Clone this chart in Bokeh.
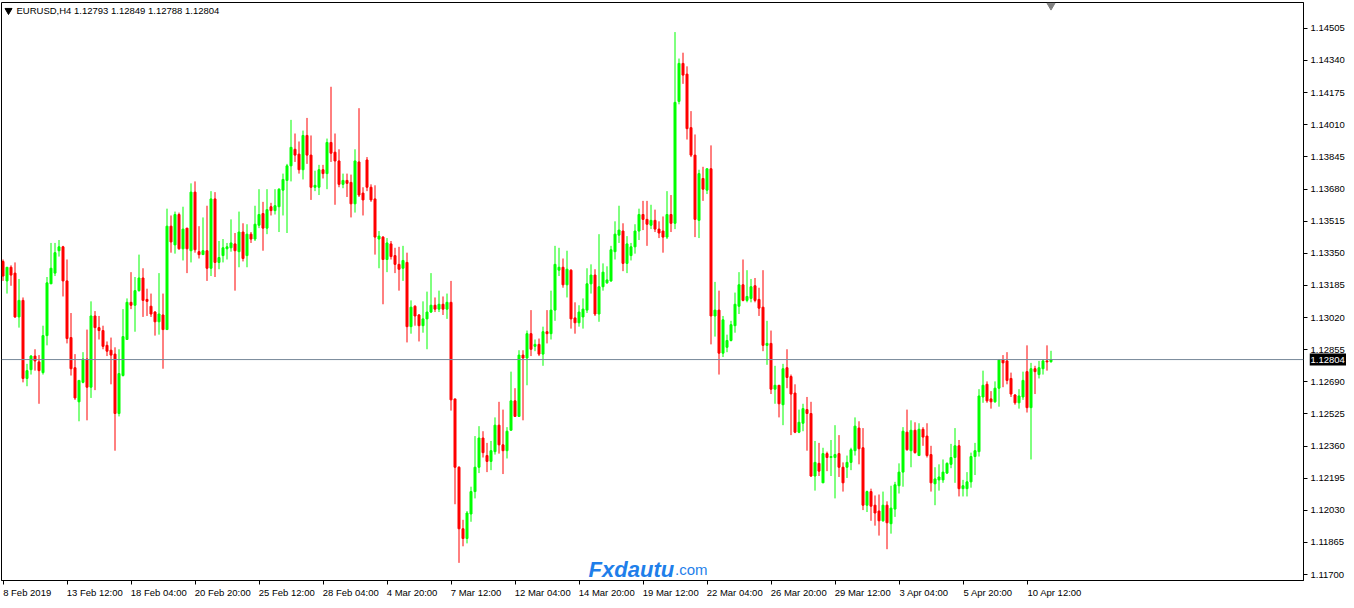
from bokeh.plotting import figure
from bokeh.layouts import row
from bokeh.models import (Range1d, FixedTicker, LinearAxis, Label, Span,
                          ColumnDataSource)
from bokeh.core.properties import value
from bokeh.embed import file_html
from bokeh.resources import INLINE

symbol = "EURUSD,H4"

opens = [
    1.13308, 1.13208, 1.13278, 1.13248, 1.13023, 1.13108, 1.12707, 1.12752, 1.12822, 1.12792,
    1.12737, 1.12927, 1.13193, 1.13248, 1.13363, 1.13383, 1.13208, 1.12917, 1.12762, 1.12587,
    1.12687, 1.12807, 1.12662, 1.13028, 1.12968, 1.12953, 1.12877, 1.12852, 1.12832, 1.12527,
    1.12722, 1.12907, 1.13098, 1.13083, 1.13158, 1.13223, 1.13113, 1.13078, 1.13048, 1.12998,
    1.13033, 1.12958, 1.13489, 1.13393, 1.13549, 1.13373, 1.13479, 1.13363, 1.13664, 1.13358,
    1.13343, 1.13363, 1.13273, 1.13629, 1.13303, 1.13338, 1.13373, 1.13378, 1.13398, 1.13358,
    1.13459, 1.13338, 1.13448, 1.13423, 1.13494, 1.13554, 1.13479, 1.13589, 1.13569, 1.13589,
    1.13674, 1.13724, 1.13799, 1.13884, 1.13859, 1.13779, 1.13955, 1.13854, 1.13689, 1.13689,
    1.13779, 1.13759, 1.13919, 1.13869, 1.13824, 1.13704, 1.13724, 1.13714, 1.13604, 1.13819,
    1.13659, 1.13829, 1.13689, 1.13629, 1.13423, 1.13433, 1.13318, 1.13398, 1.13338, 1.13293,
    1.13273, 1.13303, 1.12973, 1.13078, 1.13033, 1.12978, 1.13013, 1.13048, 1.13083, 1.13063,
    1.13088, 1.13063, 1.13098, 1.12602, 1.12251, 1.11935, 1.11885, 1.12011, 1.12126, 1.12251,
    1.12401, 1.12311, 1.12281, 1.12331, 1.12467, 1.12366, 1.12336, 1.12441, 1.12592, 1.12512,
    1.12827, 1.12812, 1.12937, 1.12872, 1.12882, 1.12832, 1.12947, 1.12937, 1.13058, 1.13263,
    1.13278, 1.13188, 1.13263, 1.13018, 1.12993, 1.13023, 1.13058, 1.13193, 1.13238, 1.13038,
    1.13178, 1.13198, 1.13208, 1.13358, 1.13443, 1.13464, 1.13298, 1.13338, 1.13383, 1.13464,
    1.13549, 1.13524, 1.13494, 1.13519, 1.13474, 1.13464, 1.13433, 1.13549, 1.13504, 1.14130,
    1.14325, 1.14270, 1.13995, 1.13854, 1.13519, 1.13734, 1.13674, 1.13784, 1.13028, 1.13058,
    1.12837, 1.12867, 1.12902, 1.12978, 1.13078, 1.13188, 1.13108, 1.13118, 1.13183, 1.13113,
    1.13073, 1.12877, 1.12887, 1.12652, 1.12672, 1.12572, 1.12762, 1.12717, 1.12632, 1.12431,
    1.12477, 1.12547, 1.12527, 1.12206, 1.12271, 1.12171, 1.12321, 1.12301, 1.12301, 1.12321,
    1.12251, 1.12251, 1.12276, 1.12336, 1.12452, 1.12351, 1.12056, 1.12126, 1.12056, 1.12026,
    1.11976, 1.12056, 1.11961, 1.12036, 1.12156, 1.12226, 1.12431, 1.12336, 1.12441, 1.12311,
    1.12446, 1.12411, 1.12316, 1.12166, 1.12186, 1.12186, 1.12221, 1.12266, 1.12301, 1.12361,
    1.12141, 1.12141, 1.12176, 1.12306, 1.12331, 1.12612, 1.12677, 1.12602, 1.12587, 1.12657,
    1.12802, 1.12797, 1.12707, 1.12622, 1.12582, 1.12612, 1.12742, 1.12557, 1.12757, 1.12727,
    1.12757, 1.12797, 1.12793,
]

highs = [
    1.13318, 1.13278, 1.13288, 1.13303, 1.13218, 1.13123, 1.12782, 1.12827, 1.12857, 1.12827,
    1.12978, 1.13228, 1.13403, 1.13403, 1.13418, 1.13388, 1.13318, 1.13043, 1.12832, 1.12697,
    1.12842, 1.12958, 1.13103, 1.13053, 1.13028, 1.12978, 1.12897, 1.12917, 1.12867, 1.12857,
    1.13063, 1.13118, 1.13253, 1.13228, 1.13343, 1.13273, 1.13168, 1.13143, 1.13053, 1.13248,
    1.13143, 1.13579, 1.13544, 1.13564, 1.13559, 1.13589, 1.13479, 1.13709, 1.13719, 1.13489,
    1.13534, 1.13594, 1.13669, 1.13664, 1.13413, 1.13423, 1.13403, 1.13524, 1.13454, 1.13564,
    1.13504, 1.13499, 1.13459, 1.13594, 1.13679, 1.13614, 1.13679, 1.13609, 1.13679, 1.13684,
    1.13759, 1.13809, 1.14035, 1.13965, 1.13924, 1.13980, 1.14045, 1.13955, 1.13774, 1.13804,
    1.13804, 1.13939, 1.14205, 1.13965, 1.13884, 1.13759, 1.13759, 1.13754, 1.13884, 1.14095,
    1.13689, 1.13844, 1.13704, 1.13699, 1.13464, 1.13438, 1.13428, 1.13413, 1.13378, 1.13383,
    1.13388, 1.13353, 1.13108, 1.13083, 1.13038, 1.13103, 1.13153, 1.13248, 1.13123, 1.13158,
    1.13128, 1.13143, 1.13208, 1.12602, 1.12256, 1.11981, 1.12026, 1.12151, 1.12411, 1.12462,
    1.12436, 1.12376, 1.12386, 1.12507, 1.12587, 1.12547, 1.12457, 1.12742, 1.12657, 1.12852,
    1.12852, 1.12953, 1.13058, 1.12907, 1.12912, 1.12973, 1.13058, 1.13158, 1.13388, 1.13378,
    1.13323, 1.13363, 1.13268, 1.13098, 1.13083, 1.13118, 1.13273, 1.13293, 1.13268, 1.13448,
    1.13298, 1.13283, 1.13388, 1.13514, 1.13594, 1.13504, 1.13438, 1.13403, 1.13499, 1.13579,
    1.13619, 1.13619, 1.13599, 1.13574, 1.13514, 1.13539, 1.13669, 1.13649, 1.14486, 1.14350,
    1.14380, 1.14310, 1.14080, 1.13960, 1.13779, 1.13794, 1.13784, 1.13904, 1.13203, 1.13158,
    1.13028, 1.12932, 1.13003, 1.13148, 1.13253, 1.13318, 1.13263, 1.13218, 1.13223, 1.13173,
    1.13263, 1.13003, 1.12953, 1.12772, 1.12672, 1.12782, 1.12857, 1.12727, 1.12677, 1.12547,
    1.12577, 1.12612, 1.12587, 1.12386, 1.12376, 1.12351, 1.12331, 1.12391, 1.12467, 1.12416,
    1.12276, 1.12311, 1.12351, 1.12507, 1.12487, 1.12452, 1.12131, 1.12141, 1.12106, 1.12111,
    1.12126, 1.12076, 1.12156, 1.12176, 1.12271, 1.12457, 1.12547, 1.12492, 1.12482, 1.12477,
    1.12457, 1.12477, 1.12361, 1.12251, 1.12266, 1.12291, 1.12276, 1.12371, 1.12452, 1.12391,
    1.12186, 1.12226, 1.12326, 1.12376, 1.12652, 1.12747, 1.12692, 1.12642, 1.12692, 1.12807,
    1.12827, 1.12842, 1.12737, 1.12627, 1.12652, 1.12742, 1.12877, 1.12787, 1.12772, 1.12797,
    1.12807, 1.12877, 1.12849,
]

lows = [
    1.13208, 1.13143, 1.13183, 1.13018, 1.12968, 1.12687, 1.12667, 1.12727, 1.12747, 1.12577,
    1.12727, 1.12877, 1.13193, 1.13233, 1.13333, 1.13128, 1.12887, 1.12722, 1.12597, 1.12487,
    1.12682, 1.12492, 1.12607, 1.12647, 1.12907, 1.12857, 1.12822, 1.12677, 1.12336, 1.12512,
    1.12717, 1.12907, 1.13063, 1.12947, 1.13153, 1.13023, 1.13028, 1.13023, 1.12927, 1.12932,
    1.12757, 1.12958, 1.13353, 1.13348, 1.13368, 1.13313, 1.13248, 1.13303, 1.13353, 1.13323,
    1.13343, 1.13208, 1.13233, 1.13228, 1.13268, 1.13303, 1.13318, 1.13358, 1.13158, 1.13278,
    1.13308, 1.13278, 1.13403, 1.13413, 1.13479, 1.13363, 1.13448, 1.13544, 1.13549, 1.13459,
    1.13544, 1.13454, 1.13719, 1.13819, 1.13759, 1.13729, 1.13809, 1.13624, 1.13669, 1.13649,
    1.13734, 1.13679, 1.13819, 1.13599, 1.13689, 1.13684, 1.13639, 1.13534, 1.13559, 1.13639,
    1.13544, 1.13669, 1.13614, 1.13343, 1.13273, 1.13088, 1.13253, 1.13318, 1.13248, 1.13158,
    1.13208, 1.12892, 1.12937, 1.12978, 1.12897, 1.12942, 1.12857, 1.13043, 1.13048, 1.13048,
    1.13033, 1.13013, 1.12542, 1.12061, 1.11760, 1.11845, 1.11860, 1.11971, 1.12091, 1.12221,
    1.12301, 1.12226, 1.12236, 1.12316, 1.12321, 1.12216, 1.12296, 1.12441, 1.12512, 1.12512,
    1.12492, 1.12672, 1.12822, 1.12847, 1.12822, 1.12772, 1.12887, 1.12907, 1.13003, 1.13233,
    1.13173, 1.13123, 1.12963, 1.12937, 1.12973, 1.12963, 1.13043, 1.13143, 1.13028, 1.12998,
    1.13158, 1.13193, 1.13203, 1.13318, 1.13403, 1.13258, 1.13248, 1.13313, 1.13348, 1.13418,
    1.13469, 1.13388, 1.13474, 1.13459, 1.13428, 1.13353, 1.13423, 1.13459, 1.13474, 1.14115,
    1.14220, 1.13934, 1.13844, 1.13433, 1.13428, 1.13619, 1.13654, 1.12882, 1.12922, 1.12727,
    1.12817, 1.12842, 1.12897, 1.12942, 1.13038, 1.13103, 1.13098, 1.13098, 1.13098, 1.13028,
    1.12847, 1.12777, 1.12627, 1.12577, 1.12507, 1.12467, 1.12657, 1.12416, 1.12426, 1.12426,
    1.12436, 1.12336, 1.12201, 1.12131, 1.12206, 1.12171, 1.12231, 1.12206, 1.12091, 1.12201,
    1.12126, 1.12196, 1.12236, 1.12311, 1.12266, 1.12031, 1.12021, 1.11976, 1.11951, 1.11900,
    1.11971, 1.11830, 1.11910, 1.11996, 1.12116, 1.12151, 1.12336, 1.12251, 1.12321, 1.12311,
    1.12361, 1.12301, 1.12126, 1.12056, 1.12131, 1.12171, 1.12216, 1.12246, 1.12171, 1.12101,
    1.12101, 1.12101, 1.12146, 1.12211, 1.12306, 1.12582, 1.12582, 1.12552, 1.12582, 1.12562,
    1.12662, 1.12677, 1.12612, 1.12572, 1.12552, 1.12597, 1.12532, 1.12291, 1.12627, 1.12707,
    1.12727, 1.12747, 1.12788,
]

closes = [
    1.13233, 1.13278, 1.13238, 1.13023, 1.13108, 1.12707, 1.12747, 1.12822, 1.12797, 1.12747,
    1.12927, 1.13198, 1.13273, 1.13353, 1.13383, 1.13208, 1.12912, 1.12757, 1.12607, 1.12697,
    1.12807, 1.12662, 1.13028, 1.12968, 1.12953, 1.12872, 1.12847, 1.12827, 1.12527, 1.12732,
    1.12922, 1.13098, 1.13083, 1.13158, 1.13223, 1.13108, 1.13103, 1.13038, 1.12998, 1.13038,
    1.12958, 1.13489, 1.13408, 1.13549, 1.13373, 1.13474, 1.13373, 1.13664, 1.13368, 1.13343,
    1.13363, 1.13273, 1.13629, 1.13303, 1.13328, 1.13378, 1.13383, 1.13403, 1.13363, 1.13459,
    1.13323, 1.13448, 1.13423, 1.13499, 1.13549, 1.13479, 1.13574, 1.13569, 1.13594, 1.13679,
    1.13729, 1.13799, 1.13894, 1.13854, 1.13779, 1.13955, 1.13854, 1.13689, 1.13699, 1.13779,
    1.13759, 1.13919, 1.13864, 1.13824, 1.13704, 1.13724, 1.13709, 1.13604, 1.13824, 1.13649,
    1.13624, 1.13689, 1.13624, 1.13433, 1.13438, 1.13318, 1.13403, 1.13333, 1.13293, 1.13268,
    1.13313, 1.12973, 1.13073, 1.13028, 1.12978, 1.13013, 1.13048, 1.13083, 1.13063, 1.13088,
    1.13063, 1.13098, 1.12597, 1.12251, 1.11935, 1.11885, 1.12016, 1.12126, 1.12251, 1.12401,
    1.12326, 1.12281, 1.12336, 1.12467, 1.12366, 1.12336, 1.12436, 1.12592, 1.12512, 1.12827,
    1.12812, 1.12937, 1.12857, 1.12882, 1.12832, 1.12947, 1.12937, 1.13058, 1.13293, 1.13278,
    1.13188, 1.13268, 1.13013, 1.12993, 1.13048, 1.13063, 1.13193, 1.13238, 1.13038, 1.13178,
    1.13253, 1.13213, 1.13368, 1.13448, 1.13469, 1.13298, 1.13398, 1.13383, 1.13464, 1.13549,
    1.13524, 1.13499, 1.13519, 1.13474, 1.13454, 1.13433, 1.13549, 1.13504, 1.14125, 1.14325,
    1.14265, 1.13990, 1.13854, 1.13524, 1.13759, 1.13679, 1.13784, 1.13028, 1.13058, 1.12837,
    1.13008, 1.12902, 1.12983, 1.13088, 1.13188, 1.13108, 1.13128, 1.13178, 1.13108, 1.13068,
    1.12877, 1.12887, 1.12652, 1.12672, 1.12577, 1.12757, 1.12712, 1.12627, 1.12431, 1.12482,
    1.12552, 1.12527, 1.12206, 1.12276, 1.12231, 1.12321, 1.12301, 1.12306, 1.12316, 1.12251,
    1.12171, 1.12276, 1.12341, 1.12462, 1.12346, 1.12056, 1.12126, 1.12051, 1.12016, 1.11976,
    1.12056, 1.11966, 1.12041, 1.12161, 1.12226, 1.12436, 1.12341, 1.12441, 1.12326, 1.12446,
    1.12406, 1.12311, 1.12171, 1.12191, 1.12201, 1.12226, 1.12271, 1.12301, 1.12361, 1.12141,
    1.12156, 1.12176, 1.12306, 1.12336, 1.12617, 1.12672, 1.12592, 1.12587, 1.12657, 1.12802,
    1.12787, 1.12697, 1.12627, 1.12582, 1.12617, 1.12697, 1.12557, 1.12757, 1.12742, 1.12762,
    1.12797, 1.12792, 1.12804,
]

time_tick_bars = [0, 16, 32, 48, 64, 80, 96, 112, 128, 144, 160, 176, 192, 208, 224, 240, 256]
time_tick_labels = ["8 Feb 2019", "13 Feb 12:00", "18 Feb 04:00", "20 Feb 20:00",
                    "25 Feb 12:00", "28 Feb 04:00", "4 Mar 20:00", "7 Mar 12:00",
                    "12 Mar 04:00", "14 Mar 20:00", "19 Mar 12:00", "22 Mar 04:00",
                    "26 Mar 20:00", "29 Mar 12:00", "3 Apr 04:00", "5 Apr 20:00",
                    "10 Apr 12:00"]

price_ticks = [1.11700, 1.11865, 1.12030, 1.12195, 1.12360, 1.12525, 1.12690, 1.12855,
               1.13020, 1.13185, 1.13350, 1.13515, 1.13680, 1.13845, 1.14010, 1.14175,
               1.14340, 1.14505]

BULL = "#00ff00"
BEAR = "#ff0000"
FONT = "Liberation Sans"
FS = "9.5px"

# approximate advance widths (em) of Liberation Sans, used to make the time
# labels start at their tick marks (MetaTrader style)
ADV = {c: 0.556 for c in "0123456789"}
ADV.update({" ": 0.278, ":": 0.278, "F": 0.611, "e": 0.556, "b": 0.556,
            "M": 0.833, "a": 0.556, "r": 0.333, "A": 0.667, "p": 0.556})
NBSP_EM = 0.278


def left_aligned(text, first=False):
    if first:  # the first label is pushed inside the canvas anyway
        return "\u00a0" + text
    w = sum(ADV.get(c, 0.556) for c in text)
    return "\u00a0" * int(round(w / NBSP_EM)) + text


n = len(closes)
bull = [i for i in range(n) if closes[i] >= opens[i]]
bear = [i for i in range(n) if closes[i] < opens[i]]


def make_src(sel):
    return ColumnDataSource(dict(
        x=list(sel),
        top=[max(opens[i], closes[i]) for i in sel],
        bottom=[min(opens[i], closes[i]) for i in sel],
        high=[highs[i] for i in sel],
        low=[lows[i] for i in sel],
    ))


W_TOTAL, H = 1346, 600
SCALE_W = 37                      # width of the price-label strip
W = W_TOTAL - SCALE_W             # main chart figure width
BORDER_L, BORDER_R, BORDER_T, BORDER_B = 1, 6, 2, 17
TOP_GAP, BOTTOM_GAP = 26, 6       # px between frame edges and outer price ticks
BAR_PX = 4
frame_w = W - BORDER_L - BORDER_R
frame_h = H - BORDER_T - BORDER_B
x_start = -0.375
x_end = x_start + frame_w / BAR_PX
ppu = (frame_h - TOP_GAP - BOTTOM_GAP) / (price_ticks[-1] - price_ticks[0])
y_start = price_ticks[0] - BOTTOM_GAP / ppu
y_end = y_start + frame_h / ppu
y_range = Range1d(y_start, y_end)

chart = figure(width=W, height=H, output_backend="svg", toolbar_location=None,
               x_range=Range1d(x_start, x_end), y_range=y_range,
               x_axis_location=None, y_axis_location=None,
               min_border_left=BORDER_L, min_border_right=BORDER_R,
               min_border_top=BORDER_T, min_border_bottom=BORDER_B)
chart.background_fill_color = "white"
chart.border_fill_color = "white"
chart.outline_line_color = "black"
chart.outline_line_width = 1
chart.grid.visible = False

# right price axis: line and tick marks (its labels are in the strip on the right)
yaxis = LinearAxis(ticker=FixedTicker(ticks=price_ticks, minor_ticks=[]),
                   major_label_overrides={t: "" for t in price_ticks})
yaxis.major_tick_out = 4
yaxis.major_tick_in = 0
yaxis.minor_tick_line_color = None
yaxis.major_label_standoff = 0
yaxis.major_label_text_font_size = "1px"
yaxis.axis_line_color = "black"
yaxis.major_tick_line_color = "black"
chart.add_layout(yaxis, "right")

# bottom time axis, labels starting at their tick marks
xaxis = LinearAxis(ticker=FixedTicker(ticks=time_tick_bars, minor_ticks=[]),
                   major_label_overrides={t: left_aligned(lab, k == 0)
                                          for k, (t, lab) in enumerate(zip(time_tick_bars, time_tick_labels))})
xaxis.major_tick_out = 4
xaxis.major_tick_in = 0
xaxis.minor_tick_line_color = None
xaxis.major_label_standoff = 2
xaxis.major_label_text_font = FONT
xaxis.major_label_text_font_size = FS
xaxis.major_label_text_color = "black"
xaxis.axis_line_color = "black"
xaxis.major_tick_line_color = "black"
chart.add_layout(xaxis, "below")

# current price line
chart.add_layout(Span(location=closes[-1], dimension="width",
                      line_color="#778899", line_width=1))

# candles
for sel, col in ((bull, BULL), (bear, BEAR)):
    s = make_src(sel)
    chart.segment(x0="x", y0="low", x1="x", y1="high", source=s,
                  line_color=col, line_width=1)
    chart.vbar(x="x", width=0.5, top="top", bottom="bottom", source=s,
               fill_color=col, line_color=col, line_width=1)

# chart header
hdr_y = y_end - 8 / ppu
chart.scatter(x=[x_start + 7 / BAR_PX], y=[hdr_y], marker="inverted_triangle",
              size=7, color="black")
header = "%s  %.5f %.5f %.5f %.5f" % (symbol, opens[-1], highs[-1], lows[-1], closes[-1])
chart.add_layout(Label(x=x_start + 15 / BAR_PX, y=hdr_y, text=header,
                       text_align="left", text_baseline="middle", text_font=FONT,
                       text_font_size=FS, text_color="black"))

# chart shift marker
chart.scatter(x=[n - 1], y=[y_end - 3 / ppu], marker="inverted_triangle",
              size=8, color="#808080")

# watermark
wm_y = y_end - 570 / ppu
chart.add_layout(Label(x=146.4, y=wm_y, text="Fxdautu", text_align="left",
                       text_baseline="alphabetic", text_font=FONT,
                       text_font_size="22px", text_font_style="bold italic",
                       text_color="#1f7fea"))
chart.add_layout(Label(x=168.0, y=wm_y, text=".com", text_align="left",
                       text_baseline="alphabetic", text_font=FONT,
                       text_font_size="15px", text_color="#1f7fea"))

# price label strip (shares the chart's price scale)
scale = figure(width=SCALE_W, height=H, output_backend="svg", toolbar_location=None,
               x_range=Range1d(0, SCALE_W), y_range=y_range,
               x_axis_location=None, y_axis_location=None,
               min_border_left=0, min_border_right=0,
               min_border_top=BORDER_T, min_border_bottom=BORDER_B)
scale.background_fill_color = "white"
scale.border_fill_color = "white"
scale.outline_line_color = None
scale.grid.visible = False
scale.text(x=[1] * len(price_ticks), y=price_ticks,
           text=["%.5f" % t for t in price_ticks],
           text_align="left", text_baseline="middle",
           text_font=value(FONT), text_font_size=value(FS), text_color="black")
box_half = 6 / ppu
scale.quad(left=[0], right=[SCALE_W], bottom=[closes[-1] - box_half],
           top=[closes[-1] + box_half], fill_color="black", line_color=None)
scale.text(x=[1], y=[closes[-1]], text=["%.5f" % closes[-1]],
           text_align="left", text_baseline="middle",
           text_font=value(FONT), text_font_size=value(FS), text_color="white")

p = row(chart, scale, spacing=0)

open("out.html", "w").write(file_html(p, INLINE))
